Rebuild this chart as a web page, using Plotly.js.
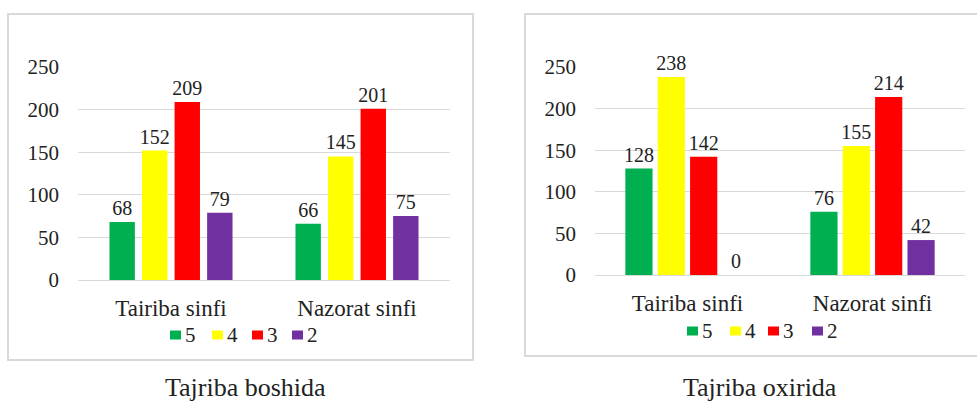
<!DOCTYPE html>
<html>
<head>
<meta charset="utf-8">
<script src="https://cdn.plot.ly/plotly-3.0.1.min.js"></script>
<style>
  html, body { margin:0; padding:0; background:#fff; }
  #wrap { position:relative; width:977px; height:401px; overflow:hidden; }
  #left { position:absolute; left:0; top:0; width:490px; height:401px; }
  #right { position:absolute; left:490px; top:0; width:487px; height:401px; }
</style>
</head>
<body>
<div id="wrap"><div id="left"></div><div id="right"></div></div>
<script>
const categories = ["Tairiba sinfi", "Nazorat sinfi"];
const seriesNames = ["5", "4", "3", "2"];
const seriesColors = ["#00b050", "#ffff00", "#ff0000", "#7030a0"];
const titleLeft = "Tajriba boshida";
const titleRight = "Tajriba oxirida";
// values per series: [Tairiba sinfi, Nazorat sinfi]
const before5 = [68, 66];
const before4 = [152, 145];
const before3 = [209, 201];
const before2 = [79, 75];
const after5 = [128, 76];
const after4 = [238, 155];
const after3 = [142, 214];
const after2 = [0, 42];
const yTicks = [0, 50, 100, 150, 200, 250];

const FONT = "Liberation Serif";
const TXT = "#222222";

function makeTraces(vals) {
  return vals.map((v, i) => ({
    type: "bar",
    name: seriesNames[i],
    x: categories,
    y: v,
    marker: { color: seriesColors[i] },
    text: v.map(String),
    textposition: "outside",
    constraintext: "none",
    cliponaxis: false,
    textfont: { family: FONT, size: 20, color: TXT },
    hoverinfo: "skip"
  }));
}

function makeLayout(o) {
  const H = 401;
  const plotW = o.w - o.l - o.r;
  const plotH = H - o.t - o.b;
  const xp = px => (px - o.l) / plotW;
  const yp = py => (H - o.b - py) / plotH;

  const shapes = [{
    type: "rect", xref: "paper", yref: "paper",
    x0: xp(o.box[0]), x1: xp(o.box[2]), y0: yp(o.box[3]), y1: yp(o.box[1]),
    line: { color: "#d9d9d9", width: 2 }, fillcolor: "rgba(0,0,0,0)", layer: "below"
  }];
  const annotations = [{
    xref: "paper", yref: "paper", x: xp(o.titlePos[0]), y: yp(o.titlePos[1]),
    xanchor: "center", yanchor: "middle", showarrow: false,
    text: o.title, font: { family: FONT, size: 26, color: TXT }
  }];
  // legend: colour key built from the series names and colours
  seriesNames.forEach((nm, i) => {
    const sx = o.legSq[i];
    shapes.push({
      type: "rect", xref: "paper", yref: "paper",
      x0: xp(sx), x1: xp(sx + 11), y0: yp(o.legY + 4.5), y1: yp(o.legY - 4.5),
      line: { width: 0 }, fillcolor: seriesColors[i]
    });
    annotations.push({
      xref: "paper", yref: "paper", x: xp(sx + 13), y: yp(o.legY),
      xanchor: "left", yanchor: "middle", showarrow: false,
      text: nm, font: { family: FONT, size: 21, color: TXT }
    });
  });

  return {
    width: o.w, height: H,
    margin: { l: o.l, r: o.r, t: o.t, b: o.b, pad: 0 },
    paper_bgcolor: "rgba(0,0,0,0)",
    plot_bgcolor: "rgba(0,0,0,0)",
    font: { family: FONT, color: TXT },
    barmode: "group",
    bargap: o.bargap,
    bargroupgap: o.bargroupgap,
    showlegend: false,
    xaxis: {
      showgrid: false, zeroline: false, showline: false, ticks: "",
      tickfont: { family: FONT, size: 23, color: TXT },
      ticklabelstandoff: 12
    },
    yaxis: {
      range: [0, 250], tickvals: yTicks, ticktext: yTicks.map(String),
      showgrid: true, gridcolor: "#d9d9d9", gridwidth: 1,
      zeroline: true, zerolinecolor: "#d9d9d9", zerolinewidth: 1,
      showline: false, ticks: "",
      tickfont: { family: FONT, size: 21, color: TXT },
      ticklabelstandoff: 18
    },
    shapes: shapes,
    annotations: annotations
  };
}

const cfg = { displayModeBar: false, staticPlot: true };

Plotly.newPlot("left", makeTraces([before5, before4, before3, before2]), makeLayout({
  w: 490, l: 78, r: 40, t: 67, b: 121,
  bargap: 0.3, bargroupgap: 0.22,
  box: [8, 14, 473, 360],
  titlePos: [245, 387], title: titleLeft,
  legSq: [170, 212, 252, 292], legY: 335
}), cfg);

Plotly.newPlot("right", makeTraces([after5, after4, after3, after2]), makeLayout({
  w: 487, l: 105, r: 12, t: 67, b: 126,
  bargap: 0.3, bargroupgap: 0.16,
  box: [35, 14, 492, 356],
  titlePos: [270, 387], title: titleRight,
  legSq: [197, 240, 278, 322], legY: 331
}), cfg);
</script>
</body>
</html>
